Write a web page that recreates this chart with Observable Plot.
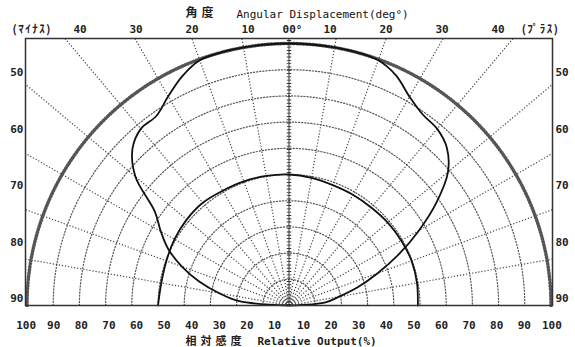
<!DOCTYPE html>
<html><head><meta charset="utf-8">
<script src="https://cdn.jsdelivr.net/npm/d3@7"></script>
<script src="https://cdn.jsdelivr.net/npm/@observablehq/plot@0.6"></script>
<style>body{margin:0;background:#fff}</style>
</head><body><div id="chart"></div>
<script>
// ---- data ----
const outerAngles = [-90,-85,-80,-75,-70,-65,-60,-55,-50,-45,-40,-35,-30,-25,-20,-15,-10,-5,0,5,10,15,20,25,30,35,40,45,50,55,60,65,70,75,80,85,90];
const outerValues = [0,19,27,35.5,43.5,50.8,56.5,62.5,76.5,84.5,88,88.3,92.2,96.5,99.6,100,100,100,100,100,100,100,99.6,96.8,92,89,88,85.2,79.2,68.8,57.3,46.3,36,27.3,19.4,14,0];
const innerAngles = [-90,-80,-70,-60,-50,-40,-30,-20,-10,0,10,20,30,40,50,60,70,80,90];
const innerValues = [50,49.5,49.8,50.5,51,51.2,50.6,50.4,50.2,50,49.5,48.9,48.8,48.8,49.2,49.5,49.8,49.6,49.2];
const gridRadii = [10,20,30,40,50,60,70,80,90];
const outerRadius = [100];
const spokeAngles = [-80,-70,-60,-50,-40,-30,-20,-10,10,20,30,40,50,60,70,80];
const topTickLabels = ["40","30","20","10"];
const centerTickLabel = "00°";
const sideTickLabels = ["50","60","70","80","90"];
const bottomTickLabels = ["10","20","30","40","50","60","70","80","90","100"];
const minusLabel = "(ﾏｲﾅｽ)";
const plusLabel = "(ﾌﾟﾗｽ)";
const topTitleJa = "角度";
const topTitleEn = "Angular Displacement(deg°)";
const bottomTitleJa = "相対感度";
const bottomTitleEn = "Relative Output(%)";

// ---- layout ----
const W = 575, H = 347, mL = 25, mR = 23, mT = 38, mB = 42;
const pxPerUnit = 2.62;               // 100% radius = 262 px
const xMax = (W - mL - mR) / 2 / pxPerUnit;
const yMax = (H - mT - mB) / pxPerUnit;
const cx = mL + (W - mL - mR) / 2, by = H - mB;
const X = px => (px - cx) / pxPerUnit;
const Y = py => (by - py) / pxPerUnit;
const rad = a => a * Math.PI / 180;
const toXY = (a, r) => ({x: r * Math.sin(rad(a)), y: r * Math.cos(rad(a))});

const outerPts = outerAngles.map((a, i) => toXY(a, outerValues[i]));
const innerPts = innerAngles.map((a, i) => toXY(a, innerValues[i]));
const arc = rs => rs.flatMap(r => d3.range(-90, 90.5, 1).map(a => ({...toXY(a, r), r})));
const gridArcs = arc(gridRadii);
const outerArc = arc(outerRadius);
const spokes = spokeAngles.map(a => {
  const t = Math.tan(rad(Math.abs(a))), s = Math.sign(a);
  if (yMax * t <= xMax) return {x2: s * yMax * t, y2: yMax};
  return {x2: s * xMax, y2: xMax / t};
});

// label layouts (evenly spaced as in the reference)
const topLabels = topTickLabels.flatMap((t, i) => {
  const off = X(cx + 209 - 56 * i);
  return [{t, x: -off}, {t, x: off}];
});
const sideLabels = sideTickLabels.map((t, i) => ({t, y: Y(72 + 56.5 * i)}));
const bottomLabels = bottomTickLabels.flatMap((t, i) => {
  const off = X(cx + 14.5 + 27.6 * i);
  return [{t, x: -off}, {t, x: off}];
});

const mono = "DejaVu Sans Mono";
const cjk = "Noto Sans CJK JP";
const dotted = {stroke: "#444", strokeWidth: 1.2, strokeDasharray: "1.2,1.9"};

const chart = Plot.plot({
  width: W, height: H,
  marginLeft: mL, marginRight: mR, marginTop: mT, marginBottom: mB,
  x: {domain: [-xMax, xMax], axis: null},
  y: {domain: [0, yMax], axis: null},
  style: {background: "#fff", overflow: "visible"},
  marks: [
    Plot.line(gridArcs, {x: "x", y: "y", z: "r", ...dotted, stroke: "#555"}),
    Plot.link(spokes, {x1: 0, y1: 0, x2: "x2", y2: "y2", ...dotted}),
    Plot.line(outerArc, {x: "x", y: "y", stroke: "#555", strokeWidth: 3.5, strokeDasharray: "0.9,2.3"}),
    Plot.ruleX([0], {y1: 0, y2: yMax, stroke: "#333", strokeWidth: 1}),
    Plot.ruleX([0], {y1: 0, y2: yMax, stroke: "#333", strokeWidth: 4.5, strokeDasharray: "0.9,2.4"}),
    Plot.line(innerPts, {x: "x", y: "y", curve: "catmull-rom", stroke: "#111", strokeWidth: 1.8}),
    Plot.line(outerPts, {x: "x", y: "y", curve: "catmull-rom", stroke: "#111", strokeWidth: 1.8}),
    Plot.frame({stroke: "#333", strokeWidth: 1.5}),
    // top tick labels
    Plot.text(topLabels, {x: "x", y: Y(29), text: "t", fontFamily: mono, fontSize: 11, fontWeight: "bold", fill: "#222"}),
    Plot.text([centerTickLabel], {x: X(292), y: Y(29), text: d => d, fontFamily: mono, fontSize: 11, fontWeight: "bold", fill: "#222"}),
    Plot.text([minusLabel], {x: X(12), y: Y(29), text: d => d, textAnchor: "start", fontFamily: cjk, fontSize: 11, fontWeight: "bold", fill: "#222"}),
    Plot.text([plusLabel], {x: X(559), y: Y(29), text: d => d, textAnchor: "end", fontFamily: cjk, fontSize: 11, fontWeight: "bold", fill: "#222"}),
    // side tick labels
    Plot.text(sideLabels, {x: X(23), y: "y", text: "t", textAnchor: "end", fontFamily: mono, fontSize: 11, fontWeight: "bold", fill: "#222"}),
    Plot.text(sideLabels, {x: X(555), y: "y", text: "t", textAnchor: "start", fontFamily: mono, fontSize: 11, fontWeight: "bold", fill: "#222"}),
    // bottom tick labels
    Plot.text(bottomLabels, {x: "x", y: Y(325), text: "t", fontFamily: mono, fontSize: 11, fontWeight: "bold", fill: "#222"}),
    // titles
    Plot.text([topTitleJa], {x: X(185), y: Y(13), text: d => d, textAnchor: "start", fontFamily: cjk, fontSize: 12, fontWeight: "bold", fill: "#222"}),
    Plot.text([topTitleEn], {x: X(236), y: Y(14), text: d => d, textAnchor: "start", fontFamily: mono, fontSize: 11, fill: "#111"}),
    Plot.text([bottomTitleJa], {x: X(185), y: Y(340.5), text: d => d, textAnchor: "start", fontFamily: cjk, fontSize: 11, fontWeight: "bold", fill: "#222"}),
    Plot.text([bottomTitleEn], {x: X(257), y: Y(340.5), text: d => d, textAnchor: "start", fontFamily: mono, fontSize: 11, fontWeight: "bold", fill: "#222"})
  ]
});
d3.select(chart).selectAll("text")
  .filter(function() { return /[角相]/.test(this.textContent); })
  .attr("letter-spacing", 4);
d3.select(chart).selectAll("text")
  .filter(function() { return /[ﾏﾌ]/.test(this.textContent); })
  .attr("letter-spacing", 1.5);
document.getElementById("chart").appendChild(chart);
</script>
</body></html>
